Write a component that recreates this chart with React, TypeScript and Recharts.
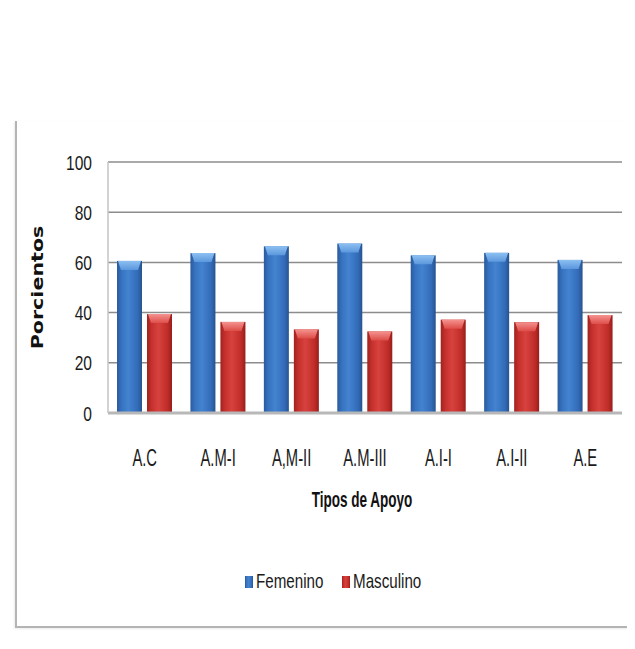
import React from 'react';
import { BarChart, Bar, XAxis, YAxis, CartesianGrid, Legend, Label } from 'recharts';

// porcentaje por tipo de apoyo, según sexo
const tipos = ['A.C', 'A.M-I', 'A,M-II', 'A.M-III', 'A.I-I', 'A.I-II', 'A.E'];
const femenino = [60.6, 63.7, 66.4, 67.5, 62.8, 63.8, 61];
const masculino = [39.4, 36.3, 33.3, 32.5, 37.2, 36.2, 39];
const yTicks = [0, 20, 40, 60, 80, 100];

const series = [
  { key: 'femenino', name: 'Femenino', color: '#3b78c6', body: 'azulCuerpo', cap: 'azulTapa' },
  { key: 'masculino', name: 'Masculino', color: '#c9302c', body: 'rojoCuerpo', cap: 'rojoTapa' },
];

const data = tipos.map((tipo, i) => ({ tipo, femenino: femenino[i], masculino: masculino[i] }));

// Liberation Sans comprimida horizontalmente para imitar una fuente estrecha
const SANS = '"Liberation Sans", Arial, sans-serif';

// barra tipo cilindro: cuerpo con degradado horizontal y tapa clara arriba
const Cylinder = (props: any) => {
  const { x, y, width, height, body, cap } = props;
  if (!height || height <= 0) return null;
  const capH = Math.min(9, height);
  return (
    <g>
      <rect x={x} y={y} width={width} height={height} fill={`url(#${body})`} />
      <path
        d={`M${x + 1},${y} L${x + width - 1},${y} L${x + width - 4},${y + capH} L${x + 4},${y + capH} Z`}
        fill={`url(#${cap})`}
      />
    </g>
  );
};

const YTick = ({ x, y, payload }: any) => (
  <text
    transform={`translate(${x},${y}) scale(0.82,1.1)`}
    textAnchor="end"
    dy="0.36em"
    fontSize={19}
    fontFamily={SANS}
    fill="#1a1a1a"
  >
    {payload.value}
  </text>
);

const XTick = ({ x, y, payload }: any) => (
  <text
    transform={`translate(${x},${y}) scale(0.82,1.35)`}
    textAnchor="middle"
    fontSize={18}
    fontFamily={SANS}
    fill="#1a1a1a"
  >
    {payload.value}
  </text>
);

const YTitle = ({ viewBox }: any) => (
  <text
    transform={`translate(${viewBox.x + 43},${viewBox.y + viewBox.height / 2}) scale(1,1.29) rotate(-90)`}
    textAnchor="middle"
    fontSize={16}
    fontWeight="bold"
    fontFamily="DejaVu Sans, sans-serif"
    fill="#111"
  >
    Porcientos
  </text>
);

const XTitle = ({ viewBox }: any) => (
  <text
    transform={`translate(${viewBox.x + viewBox.width / 2 - 3},${viewBox.y + 94}) scale(0.82,1.3)`}
    textAnchor="middle"
    fontSize={16.5}
    fontWeight="bold"
    fontFamily={SANS}
    fill="#111"
  >
    Tipos de Apoyo
  </text>
);

// leyenda dibujada en svg para poder comprimir el texto igual que los ejes
const legendX = [245, 342];
const LegendBox = () => (
  <svg width={635} height={30} style={{ display: 'block' }}>
    {series.map((s, i) => (
      <g key={s.key}>
        <rect x={legendX[i]} y={9} width={8} height={12} fill={`url(#${s.body})`} />
        <text
          transform={`translate(${legendX[i] + 11},${21}) scale(0.82,1.1)`}
          fontSize={18.5}
          fontFamily={SANS}
          fill="#1a1a1a"
        >
          {s.name}
        </text>
      </g>
    ))}
  </svg>
);

const App = () => {
  return (
    <div style={{ position: 'relative', width: 635, height: 649, margin: -8, background: '#fff' }}>
      <div
        style={{
          position: 'absolute',
          left: 15,
          top: 121,
          width: 620,
          height: 505,
          borderLeft: '2px solid #b4b4b4',
          borderBottom: '2px solid #b4b4b4',
          boxShadow: '-1px 1px 2px rgba(0,0,0,0.08)',
        }}
      />
      <div style={{ position: 'absolute', left: 0, top: 0 }}>
        <BarChart
          width={635}
          height={649}
          data={data}
          margin={{ top: 162, right: 13, bottom: 52, left: 0 }}
          barSize={25}
          barGap={5}
        >
          <defs>
            <linearGradient id="azulCuerpo" x1="0" y1="0" x2="1" y2="0">
              <stop offset="0" stopColor="#2a5a9c" />
              <stop offset="0.18" stopColor="#3672c0" />
              <stop offset="0.45" stopColor="#4383d0" />
              <stop offset="0.82" stopColor="#336cb9" />
              <stop offset="1" stopColor="#27538f" />
            </linearGradient>
            <linearGradient id="azulTapa" x1="0" y1="0" x2="0" y2="1">
              <stop offset="0" stopColor="#8cc0f2" />
              <stop offset="1" stopColor="#5b97dc" />
            </linearGradient>
            <linearGradient id="rojoCuerpo" x1="0" y1="0" x2="1" y2="0">
              <stop offset="0" stopColor="#a0221f" />
              <stop offset="0.18" stopColor="#c5302c" />
              <stop offset="0.45" stopColor="#d7423e" />
              <stop offset="0.82" stopColor="#c02d29" />
              <stop offset="1" stopColor="#971e1b" />
            </linearGradient>
            <linearGradient id="rojoTapa" x1="0" y1="0" x2="0" y2="1">
              <stop offset="0" stopColor="#f49390" />
              <stop offset="1" stopColor="#de4d48" />
            </linearGradient>
          </defs>
          <CartesianGrid vertical={false} stroke="#8c8c8c" strokeWidth={1.5} />
          <XAxis
            dataKey="tipo"
            height={154}
            tickSize={0}
            tickMargin={53}
            tick={<XTick />}
            axisLine={{ stroke: '#b8b8b8', strokeWidth: 3 }}
            interval={0}
          >
            <Label content={<XTitle />} />
          </XAxis>
          <YAxis
            width={108}
            domain={[0, 100]}
            ticks={yTicks}
            tickSize={0}
            tickMargin={16}
            tick={<YTick />}
            axisLine={{ stroke: '#c4c4c4', strokeWidth: 1.5 }}
          >
            <Label content={<YTitle />} />
          </YAxis>
          <Legend verticalAlign="bottom" content={<LegendBox />} wrapperStyle={{ left: 0, width: 635 }} />
          {series.map((s) => (
            <Bar
              key={s.key}
              dataKey={s.key}
              name={s.name}
              fill={s.color}
              isAnimationActive={false}
              shape={(p: any) => <Cylinder {...p} body={s.body} cap={s.cap} />}
            />
          ))}
        </BarChart>
      </div>
    </div>
  );
};

export default App;
